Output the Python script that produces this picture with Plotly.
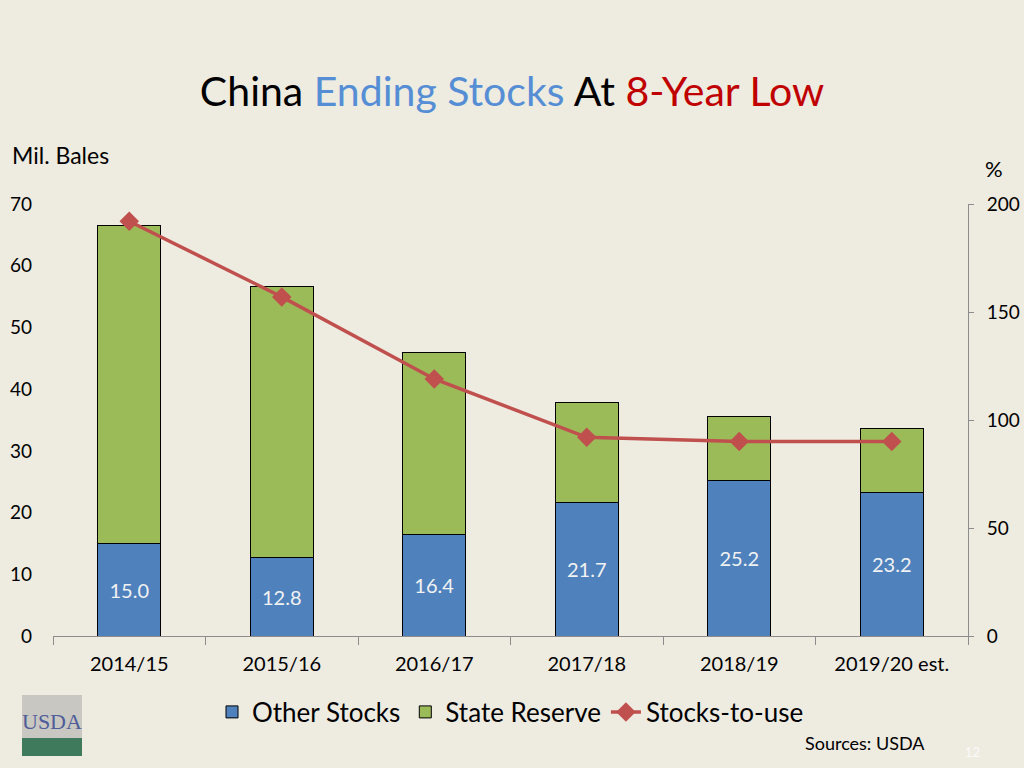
import plotly.graph_objects as go

# data
years = ["2014/15", "2015/16", "2016/17", "2017/18", "2018/19", "2019/20 est."]
other_stocks = [15.0, 12.8, 16.4, 21.7, 25.2, 23.2]
state_reserve = [51.5, 43.8, 29.5, 16.2, 10.4, 10.5]
stocks_to_use = [192, 157, 119, 92, 90, 90]

bg = "#EEEBE1"
font = "Lato"

# plot area in pixels (1024x768 page)
L, R, T, B = 53, 968, 204, 636


def px(x):
    return (x - L) / (R - L)


def py(y):
    return (B - y) / (B - T)


fig = go.Figure()

fig.add_trace(go.Bar(
    x=years, y=other_stocks, name="Other Stocks",
    marker=dict(color="#4F81BD", line=dict(color="black", width=1)),
    text=[f"{v:.1f}" for v in other_stocks], textposition="inside",
    insidetextanchor="middle",
    textfont=dict(color="#F2F2F2", size=20, family=font),
))
fig.add_trace(go.Bar(
    x=years, y=state_reserve, name="State Reserve",
    marker=dict(color="#9BBB59", line=dict(color="black", width=1)),
))
fig.add_trace(go.Scatter(
    x=years, y=stocks_to_use, name="Stocks-to-use", yaxis="y2",
    mode="lines+markers",
    line=dict(color="#C0504D", width=3.5),
    marker=dict(symbol="diamond", size=15, color="#C0504D"),
))

fig.update_layout(
    width=1024, height=768,
    paper_bgcolor=bg, plot_bgcolor=bg,
    margin=dict(l=L, r=1024 - R, t=T, b=768 - B, autoexpand=False),
    barmode="stack", bargap=0.59,
    font=dict(family=font, color="black"),
    title=dict(
        text="China <span style='color:#558ED5'>Ending Stocks</span> At "
             "<span style='color:#C00000'>8-Year Low</span>",
        x=0.5, xanchor="center", y=1 - 92 / 768, yanchor="middle",
        font=dict(size=41, family=font),
    ),
    xaxis=dict(
        showline=True, linecolor="#8C8C8C", linewidth=1,
        ticks="outside", tickson="boundaries", ticklen=8, tickcolor="#8C8C8C",
        tickfont=dict(size=20), ticklabelstandoff=10,
    ),
    yaxis=dict(
        range=[0, 70], dtick=10, showgrid=False, zeroline=False,
        showline=False, tickfont=dict(size=19), ticklabelstandoff=20,
    ),
    yaxis2=dict(
        range=[0, 200], dtick=50, overlaying="y", side="right",
        showgrid=False, zeroline=False, showline=True, linecolor="#8C8C8C",
        ticks="outside", ticklen=5, tickcolor="#8C8C8C",
        tickfont=dict(size=19), ticklabelstandoff=9,
    ),
    legend=dict(
        orientation="h", x=0.5, xanchor="center", y=py(712), yanchor="middle",
        font=dict(size=26), bgcolor="rgba(0,0,0,0)", traceorder="normal",
        itemwidth=30,
    ),
    showlegend=True,
)

annots = [
    dict(text="Mil. Bales", x=px(10), y=py(155), xanchor="left", size=23, color="black"),
    dict(text="%", x=px(994), y=py(168), xanchor="center", size=22, color="black"),
    dict(text="Sources: USDA", x=px(803), y=py(743), xanchor="left", size=18, color="black"),
    dict(text="12", x=px(972), y=py(752), xanchor="center", size=13, color="#FAFAFA"),
]
for a in annots:
    fig.add_annotation(
        text=a["text"], xref="paper", yref="paper", x=a["x"], y=a["y"],
        xanchor=a["xanchor"], yanchor="middle", showarrow=False,
        font=dict(size=a["size"], color=a["color"], family=font),
    )

# USDA logo, drawn roughly
fig.add_shape(type="rect", xref="paper", yref="paper",
              x0=px(22), x1=px(82), y0=py(756), y1=py(695),
              fillcolor="#C9C7C1", line=dict(width=0))
fig.add_shape(type="rect", xref="paper", yref="paper",
              x0=px(22), x1=px(82), y0=py(756), y1=py(738),
              fillcolor="#3F7A5C", line=dict(width=0))
fig.add_annotation(text="USDA", xref="paper", yref="paper", x=px(52), y=py(721),
                   xanchor="center", yanchor="middle", showarrow=False,
                   font=dict(size=22, color="#4E5D99", family="Liberation Serif"))

fig.write_html("out.html", config={"displayModeBar": False},
               post_script="document.body.style.margin='0';")
